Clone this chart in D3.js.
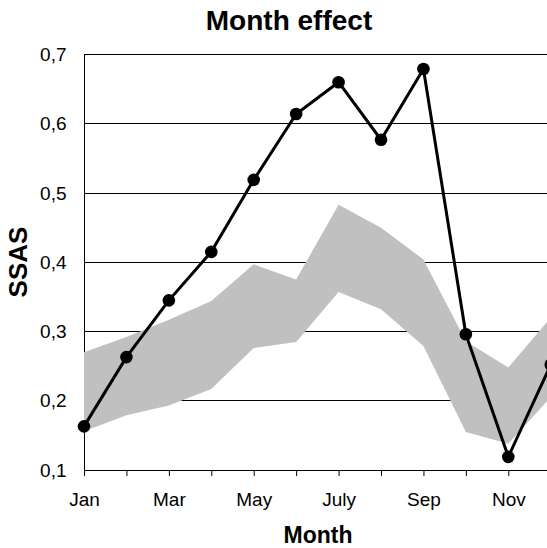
<!DOCTYPE html>
<html>
<head>
<meta charset="utf-8">
<script src="https://cdn.jsdelivr.net/npm/d3@7"></script>
<style>
  body { margin: 0; background: #fff; }
  svg { display: block; font-family: "Liberation Sans", Arial, sans-serif; }
</style>
</head>
<body>
<svg id="chart" width="547" height="548"></svg>
<script>
const months = ["Jan", "Feb", "Mar", "Apr", "May", "Jun", "July", "Aug", "Sep", "Oct", "Nov", "Dec"];
const ssas = [0.163, 0.263, 0.345, 0.415, 0.519, 0.614, 0.660, 0.577, 0.679, 0.296, 0.119, 0.252];
const bandUpper = [0.270, 0.292, 0.317, 0.344, 0.397, 0.375, 0.483, 0.450, 0.404, 0.286, 0.248, 0.320];
const bandLower = [0.156, 0.179, 0.193, 0.217, 0.276, 0.285, 0.357, 0.332, 0.279, 0.155, 0.138, 0.205];
const yTicks = [0.1, 0.2, 0.3, 0.4, 0.5, 0.6, 0.7];

const svg = d3.select("#chart");
const plotLeft = 84, plotTop = 54.5, plotBottom = 470;
const step = 42.43;

const x = d3.scalePoint()
    .domain(months)
    .range([plotLeft, plotLeft + step * (months.length - 1)]);

const y = d3.scaleLinear()
    .domain([0.1, 0.7])
    .range([plotBottom, plotTop]);

const fmt = d3.formatLocale({ decimal: ",", thousands: ".", grouping: [3], currency: ["", ""] }).format(".1f");

const data = months.map((m, i) => ({ month: m, v: ssas[i], hi: bandUpper[i], lo: bandLower[i] }));

// y axis line (the band is painted over it)
svg.append("line")
    .attr("x1", plotLeft).attr("x2", plotLeft)
    .attr("y1", y(0.7)).attr("y2", plotBottom)
    .attr("stroke", "#000")
    .attr("shape-rendering", "crispEdges");

// gridlines
svg.append("g")
    .selectAll("line")
    .data(yTicks.slice(1))
    .enter().append("line")
    .attr("x1", plotLeft).attr("x2", 547)
    .attr("y1", d => y(d)).attr("y2", d => y(d))
    .attr("stroke", "#000")
    .attr("shape-rendering", "crispEdges");

// y tick labels
svg.append("g")
    .selectAll("text")
    .data(yTicks)
    .enter().append("text")
    .attr("x", 66.5)
    .attr("y", d => y(d))
    .attr("dy", "0.35em")
    .attr("text-anchor", "end")
    .style("font-size", "19px")
    .text(d => fmt(d));

// gray band
svg.append("path")
    .datum(data)
    .attr("fill", "#c0c0c0")
    .attr("d", d3.area()
        .x(d => x(d.month))
        .y0(d => y(d.lo))
        .y1(d => y(d.hi)));

// x axis
const xAxis = svg.append("g")
    .attr("transform", `translate(0,${plotBottom})`)
    .call(d3.axisBottom(x)
        .tickSize(6)
        .tickPadding(17)
        .tickFormat((d, i) => i % 2 === 0 ? d : ""));
xAxis.select(".domain").attr("d", `M${plotLeft},0.5H547`).attr("stroke", "#000");
xAxis.selectAll(".tick line").attr("stroke", "#000");
xAxis.selectAll(".tick text")
    .style("font-size", "19px")
    .style("font-family", "\"Liberation Sans\", Arial, sans-serif")
    .attr("fill", "#000");

// SSAS line
svg.append("path")
    .datum(data)
    .attr("fill", "none")
    .attr("stroke", "#000")
    .attr("stroke-width", 3)
    .attr("d", d3.line()
        .x(d => x(d.month))
        .y(d => y(d.v)));

svg.append("g")
    .selectAll("circle")
    .data(data)
    .enter().append("circle")
    .attr("cx", d => x(d.month))
    .attr("cy", d => y(d.v))
    .attr("r", 6.3)
    .attr("fill", "#000");

// title and axis labels
svg.append("text")
    .attr("x", 289)
    .attr("y", 30)
    .attr("text-anchor", "middle")
    .style("font-size", "28px")
    .style("font-weight", "bold")
    .text("Month effect");

svg.append("text")
    .attr("x", 318)
    .attr("y", 543)
    .attr("text-anchor", "middle")
    .style("font-size", "23px")
    .style("font-weight", "bold")
    .text("Month");

svg.append("text")
    .attr("transform", "translate(27,262) rotate(-90)")
    .attr("text-anchor", "middle")
    .style("font-size", "26px")
    .style("font-weight", "bold")
    .text("SSAS");
</script>
</body>
</html>
